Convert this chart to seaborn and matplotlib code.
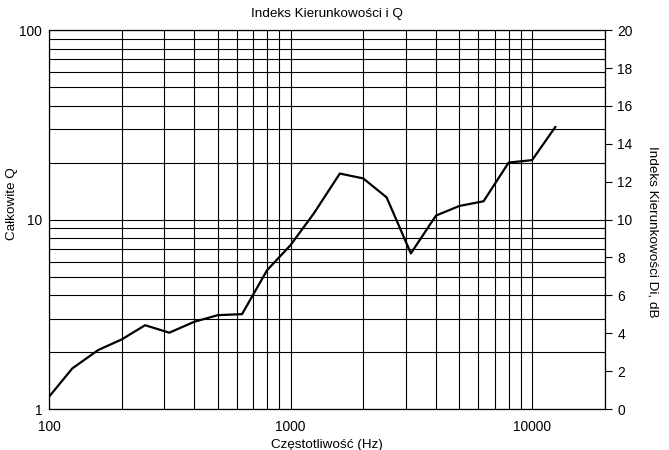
import numpy as np
import pandas as pd
import matplotlib
matplotlib.use("Agg")
import matplotlib.pyplot as plt
import matplotlib.ticker as mticker
import seaborn as sns


# =========================================
# Data
# =========================================

freq_hz = [100, 125, 160, 200, 250, 315, 400, 500, 630, 800, 1000,
           1250, 1600, 2000, 2500, 3150, 4000, 5000, 6300, 8000,
           10000, 12500]

q_total = [1.16, 1.64, 2.05, 2.33, 2.77, 2.53, 2.89, 3.13, 3.17, 5.41,
           7.33, 10.8, 17.5, 16.5, 13.1, 6.63, 10.5, 11.8, 12.5, 20.0,
           20.6, 30.9]

x_ticks = [100, 1000, 10000]
x_tick_labels = ["100", "1000", "10000"]
y_ticks = [1, 10, 100]
y_tick_labels = ["1", "10", "100"]
di_ticks = [0, 2, 4, 6, 8, 10, 12, 14, 16, 18, 20]

df = pd.DataFrame({"freq": freq_hz, "q": q_total})


# =========================================
# Style
# =========================================

sns.set_style("white")
plt.rcParams["font.family"] = ["Liberation Sans", "DejaVu Sans"]
plt.rcParams["font.size"] = 9.7
plt.rcParams["text.color"] = "black"
plt.rcParams["axes.labelcolor"] = "black"
plt.rcParams["xtick.color"] = "black"
plt.rcParams["ytick.color"] = "black"


# =========================================
# Plot
# =========================================

fig, ax = plt.subplots(figsize=(6.69, 4.5), dpi=100)
fig.subplots_adjust(left=0.0732, right=0.904, top=0.933, bottom=0.091)

sns.lineplot(
    data=df,
    x="freq",
    y="q",
    color="black",
    linewidth=1.6,
    ax=ax
)

ax.set_xscale("log")
ax.set_yscale("log")
ax.set_xlim(100, 20000)
ax.set_ylim(1, 100)

ax.xaxis.set_major_locator(mticker.FixedLocator(x_ticks))
ax.xaxis.set_major_formatter(mticker.FixedFormatter(x_tick_labels))
ax.xaxis.set_minor_locator(mticker.LogLocator(base=10, subs=np.arange(2, 10)))
ax.xaxis.set_minor_formatter(mticker.NullFormatter())

ax.yaxis.set_major_locator(mticker.FixedLocator(y_ticks))
ax.yaxis.set_major_formatter(mticker.FixedFormatter(y_tick_labels))
ax.yaxis.set_minor_locator(mticker.LogLocator(base=10, subs=np.arange(2, 10)))
ax.yaxis.set_minor_formatter(mticker.NullFormatter())

ax.grid(which="both", color="black", linewidth=0.8)
ax.set_axisbelow(True)

ax.tick_params(axis="x", which="both", length=0, pad=8, labelsize=9.9)
ax.tick_params(axis="y", which="both", length=0, pad=5, labelsize=9.9)

for spine in ax.spines.values():
    spine.set_color("black")
    spine.set_linewidth(0.9)

ax.set_title("Indeks Kierunkowości i Q", fontsize=9.7, pad=9.5)
ax.set_xlabel("Częstotliwość (Hz)", fontsize=9.7, labelpad=3.5)
ax.set_ylabel("Całkowite Q", fontsize=9.7, va="center", ha="center")
ax.yaxis.set_label_coords(-0.0665, 0.541)


# =========================================
# Right axis: directivity index in dB
# =========================================

ax2 = ax.twinx()
ax2.set_ylim(0, 20)
ax2.set_yticks(di_ticks)
ax2.tick_params(axis="y", length=5, width=0.8, color="black",
                labelsize=9.9, pad=4)
ax2.set_ylabel("Indeks Kierunkowości Di, dB", fontsize=9.7,
               rotation=-90, va="center", ha="center")
ax2.yaxis.set_label_coords(1.085, 0.467)
for spine in ax2.spines.values():
    spine.set_visible(False)

plt.savefig("out.png", dpi=100)
plt.close()
